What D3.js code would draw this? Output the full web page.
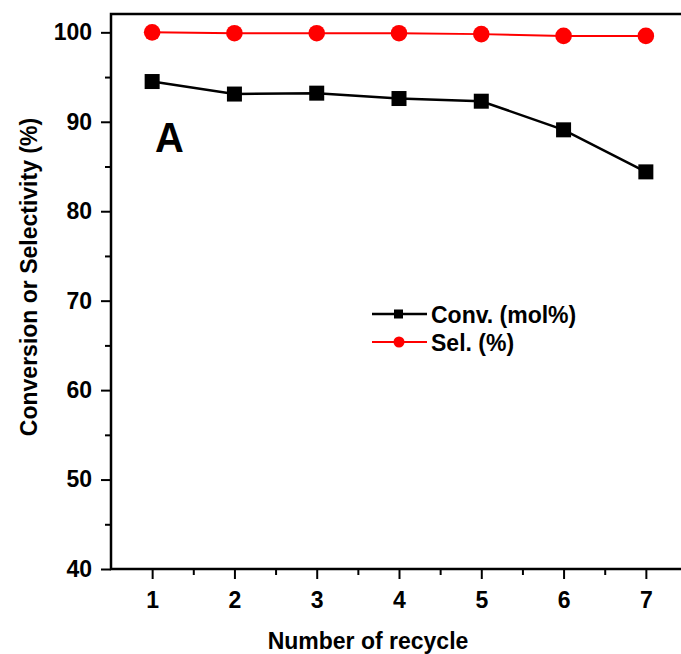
<!DOCTYPE html>
<html>
<head>
<meta charset="utf-8">
<script src="https://cdn.jsdelivr.net/npm/d3@7"></script>
<style>
  body { margin: 0; background: #fff; }
  text { font-family: "Liberation Sans", Arial, sans-serif; font-weight: bold; }
</style>
</head>
<body>
<div id="canvas"></div>
<script>
"use strict"

/* Chart values */
let cycles = [1, 2, 3, 4, 5, 6, 7];
let conversion = [94.5, 93.1, 93.2, 92.6, 92.3, 89.1, 84.4];
let selectivity = [100, 99.9, 99.9, 99.9, 99.8, 99.6, 99.6];
let xTicks = [1, 2, 3, 4, 5, 6, 7];
let yTicks = [40, 50, 60, 70, 80, 90, 100];
let seriesNames = ["Conv. (mol%)", "Sel. (%)"];

let drawing = d3.select("#canvas")
    .append("svg")
    .attr("width", 681)
    .attr("height", 654);

let plotLeft = 111;
let plotRight = 687;
let plotTop = 14;
let plotBottom = 569;

let x = d3.scaleLinear().domain([0.5, 7.5]).range([plotLeft, plotRight]);
let y = d3.scaleLinear().domain([40, 102.05]).range([plotBottom, plotTop]);

/* minor ticks */
let xMinor = d3.range(1.5, 7.5, 1);
let yMinor = d3.range(45, 100, 10);

drawing.append("g")
    .attr("transform", "translate(0," + plotBottom + ")")
    .call(d3.axisBottom(x).tickValues(xTicks).tickSize(10).tickPadding(13).tickFormat(d3.format("d")));

drawing.append("g")
    .attr("transform", "translate(0," + plotBottom + ")")
    .call(d3.axisBottom(x).tickValues(xMinor).tickSize(6).tickFormat(""));

drawing.append("g")
    .attr("transform", "translate(" + plotLeft + ",0)")
    .call(d3.axisLeft(y).tickValues(yTicks).tickSize(10).tickPadding(9).tickFormat(d3.format("d")));

drawing.append("g")
    .attr("transform", "translate(" + plotLeft + ",0)")
    .call(d3.axisLeft(y).tickValues(yMinor).tickSize(6).tickFormat(""));

drawing.selectAll(".domain").remove();
drawing.selectAll(".tick line").attr("stroke", "#000").attr("stroke-width", 2);
drawing.selectAll(".tick text")
    .attr("font-size", 23)
    .attr("font-family", "Liberation Sans, Arial, sans-serif")
    .attr("font-weight", "bold")
    .attr("fill", "#000");

/* frame: left, bottom and top lines */
drawing.append("path")
    .attr("d", "M681," + plotTop + "H" + plotLeft + "V" + plotBottom + "H681")
    .attr("fill", "none")
    .attr("stroke", "#000")
    .attr("stroke-width", 2.5);

/* conversion series */
let seriesLine = d3.line().x((d, i) => x(cycles[i])).y(d => y(d));

drawing.append("path")
    .datum(conversion)
    .attr("d", seriesLine)
    .attr("fill", "none")
    .attr("stroke", "#000")
    .attr("stroke-width", 2.5);

drawing.selectAll(".conv")
    .data(conversion)
    .enter().append("rect")
    .attr("class", "conv")
    .attr("x", (d, i) => x(cycles[i]) - 7.5)
    .attr("y", d => y(d) - 7.5)
    .attr("width", 15)
    .attr("height", 15)
    .attr("fill", "#000");

/* selectivity series */
drawing.append("path")
    .datum(selectivity)
    .attr("d", seriesLine)
    .attr("fill", "none")
    .attr("stroke", "#ff0000")
    .attr("stroke-width", 2);

drawing.selectAll(".sel")
    .data(selectivity)
    .enter().append("circle")
    .attr("class", "sel")
    .attr("cx", (d, i) => x(cycles[i]))
    .attr("cy", d => y(d))
    .attr("r", 8.3)
    .attr("fill", "#ff0000");

/* panel letter */
drawing.append("text")
    .attr("transform", "translate(155,152) scale(1.05,1.12)")
    .attr("font-size", 38)
    .text("A");

/* legend */
let legend = drawing.append("g").attr("transform", "translate(372,314)");

legend.append("line")
    .attr("x1", 0).attr("x2", 55).attr("y1", 0).attr("y2", 0)
    .attr("stroke", "#000").attr("stroke-width", 2.5);
legend.append("rect")
    .attr("x", 22).attr("y", -4.5).attr("width", 9).attr("height", 9)
    .attr("fill", "#000");
legend.append("text")
    .attr("x", 59).attr("y", 9)
    .attr("font-size", 23)
    .text(seriesNames[0]);

legend.append("line")
    .attr("x1", 0).attr("x2", 55).attr("y1", 28).attr("y2", 28)
    .attr("stroke", "#ff0000").attr("stroke-width", 2);
legend.append("circle")
    .attr("cx", 27).attr("cy", 28).attr("r", 5.5)
    .attr("fill", "#ff0000");
legend.append("text")
    .attr("x", 59).attr("y", 37)
    .attr("font-size", 23)
    .text(seriesNames[1]);

/* axis titles */
drawing.append("text")
    .attr("x", 368)
    .attr("y", 649)
    .attr("text-anchor", "middle")
    .attr("font-size", 23)
    .text("Number of recycle");

drawing.append("text")
    .attr("transform", "translate(37,277) rotate(-90)")
    .attr("text-anchor", "middle")
    .attr("font-size", 23)
    .text("Conversion or Selectivity (%)");
</script>
</body>
</html>
